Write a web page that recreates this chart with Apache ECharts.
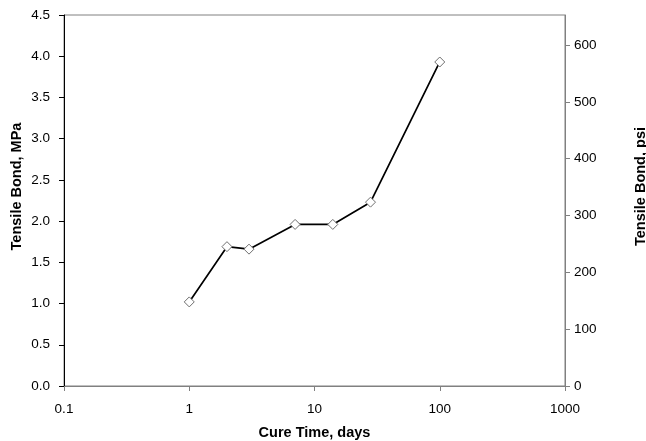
<!DOCTYPE html>
<html>
<head>
<meta charset="utf-8">
<script src="https://cdn.jsdelivr.net/npm/echarts@6/dist/echarts.min.js"></script>
<style>
  html, body { margin: 0; padding: 0; background: #fff; }
  #chart { width: 646px; height: 441px; }
</style>
</head>
<body>
<div id="chart"></div>
<script>
// cure time (days) and tensile bond (MPa)
var cureDays = [1, 2, 3, 7, 14, 28, 100]
var bondMPa = [1.02, 1.69, 1.66, 1.96, 1.96, 2.23, 3.93]
var mpaMax = 4.5
var psiPerMPa = 145.038

var chart = echarts.init(document.getElementById('chart'))
var font = 'Liberation Sans, Arial, sans-serif'

chart.setOption({
  animation: false,
  grid: {
    left: 64, right: 81, top: 15, bottom: 55,
    outerBoundsMode: 'none',
    containLabel: false,
    show: true, borderColor: '#808080', borderWidth: 1
  },
  xAxis: {
    type: 'log',
    logBase: 10,
    min: 0.1,
    max: 1000,
    name: 'Cure Time, days',
    nameLocation: 'middle',
    nameGap: 39,
    nameTextStyle: { fontFamily: font, fontWeight: 'bold', fontSize: 14.5, color: '#000' },
    axisLine: { lineStyle: { color: '#808080' } },
    axisTick: { inside: false, length: 5, lineStyle: { color: '#808080' } },
    minorTick: { show: false },
    splitLine: { show: false },
    axisLabel: {
      fontFamily: font, fontSize: 13.5, color: '#000', margin: 16,
      formatter: function (v) { return String(+v.toPrecision(3)) }
    }
  },
  yAxis: [
    {
      type: 'value',
      min: 0,
      max: mpaMax,
      interval: 0.5,
      name: 'Tensile Bond, MPa',
      nameLocation: 'middle',
      nameRotate: 90,
      nameGap: 40,
      nameMoveOverlap: false,
      nameTextStyle: {
        fontFamily: font, fontWeight: 'bold', fontSize: 14.5, color: '#000',
        padding: [0, 0, 0, 28]
      },
      axisLine: { show: true, lineStyle: { color: '#000' } },
      axisTick: { show: true, length: 5, lineStyle: { color: '#000' } },
      splitLine: { show: false },
      axisLabel: {
        fontFamily: font, fontSize: 13.5, color: '#000', margin: 14,
        formatter: function (v) { return v.toFixed(1) }
      }
    },
    {
      type: 'value',
      position: 'right',
      min: 0,
      max: mpaMax * psiPerMPa,
      interval: 100,
      name: 'Tensile Bond, psi',
      nameLocation: 'middle',
      nameRotate: 90,
      nameGap: 68,
      nameMoveOverlap: false,
      nameTextStyle: {
        fontFamily: font, fontWeight: 'bold', fontSize: 14.5, color: '#000',
        padding: [0, 0, 0, 28]
      },
      axisLine: { show: true, lineStyle: { color: '#808080' } },
      axisTick: { show: true, length: 5, lineStyle: { color: '#808080' } },
      splitLine: { show: false },
      axisLabel: {
        fontFamily: font, fontSize: 13.5, color: '#000', margin: 9,
        showMaxLabel: false,
        formatter: function (v) { return v % 100 === 0 ? String(v) : '' }
      }
    }
  ],
  series: [{
    type: 'line',
    yAxisIndex: 0,
    data: cureDays.map(function (d, i) { return [d, bondMPa[i]] }),
    symbol: 'diamond',
    symbolSize: 10,
    showAllSymbol: true,
    lineStyle: { color: '#000', width: 1.7 },
    itemStyle: { color: '#fff', borderColor: '#6e6e6e', borderWidth: 1 },
    z: 3
  }]
})
</script>
</body>
</html>
